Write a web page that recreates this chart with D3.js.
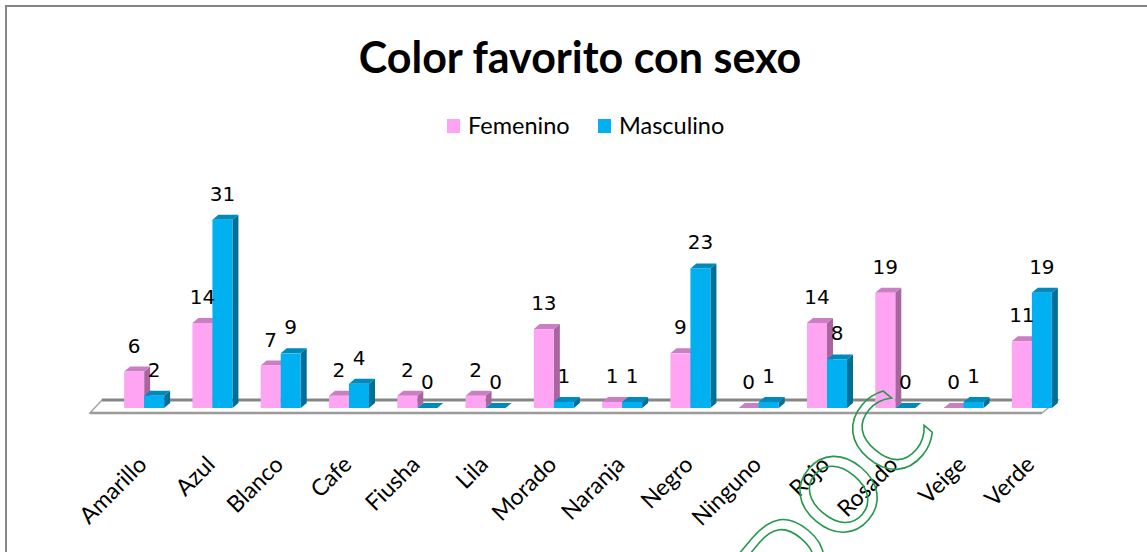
<!DOCTYPE html>
<html>
<head>
<meta charset="utf-8">
<script src="https://cdn.jsdelivr.net/npm/d3@7"></script>
<style>
  body { margin: 0; background: #fff; }
</style>
</head>
<body>
<svg class="chart"></svg>
<script>
const width = 1147;
const height = 552;

// data
const categories = ['Amarillo', 'Azul', 'Blanco', 'Cafe', 'Fiusha', 'Lila', 'Morado',
    'Naranja', 'Negro', 'Ninguno', 'Rojo', 'Rosado', 'Veige', 'Verde'];
const seriesNames = ['Femenino', 'Masculino'];
const femenino = [6, 14, 7, 2, 2, 2, 13, 1, 9, 0, 14, 19, 0, 11];
const masculino = [2, 31, 9, 4, 0, 0, 1, 1, 23, 1, 8, 0, 1, 19];

// colors: front, top, side
const colors = {
    Femenino: ['#ffa3f3', '#c97fc1', '#a8669f'],
    Masculino: ['#00b0f0', '#0089bb', '#006f97']
};

const svg = d3.select('.chart')
    .attr('width', width)
    .attr('height', height);

// border
svg.append('rect')
    .attr('x', 6)
    .attr('y', 6)
    .attr('width', 1200)
    .attr('height', 700)
    .attr('fill', 'none')
    .attr('stroke', '#858585')
    .attr('stroke-width', 2);

// title
svg.append('text')
    .attr('x', 580)
    .attr('y', 73)
    .attr('text-anchor', 'middle')
    .attr('font-family', 'Lato, sans-serif')
    .attr('font-weight', 'bold')
    .attr('font-size', 43)
    .attr('fill', '#000')
    .text('Color favorito con sexo');

// legend
const legend = svg.append('g').attr('id', 'legend');
const legendX = [447, 598];
seriesNames.forEach((name, i) => {
    legend.append('rect')
        .attr('x', legendX[i])
        .attr('y', 119)
        .attr('width', 13)
        .attr('height', 14)
        .attr('fill', colors[name][0]);
    legend.append('text')
        .attr('x', legendX[i] + 21)
        .attr('y', 134)
        .attr('font-family', 'Lato, sans-serif')
        .attr('font-size', 23.5)
        .attr('fill', '#000')
        .text(name);
});

// scales
const xScale = d3.scaleBand()
    .domain(categories)
    .range([110, 1066])
    .paddingInner(0.414)
    .paddingOuter(0.207);

const xSub = d3.scaleBand()
    .domain(seriesNames)
    .range([0, xScale.bandwidth()]);

const yScale = d3.scaleLinear()
    .domain([0, 35])
    .range([408, 408 - 35 * 6.07]);

const dx = 6, dy = -5;
const [r0, r1] = xScale.range();
const backY = 400, frontY = 413;

// floor
svg.append('path')
    .attr('d', `M${r0 - 8},${backY} L${r1 - 8},${backY} L${r1 - 24},${frontY} L${r0 - 20},${frontY} Z`)
    .attr('fill', '#fff')
    .attr('stroke', '#a6a6a6')
    .attr('stroke-width', 1.5);
svg.append('line')
    .attr('x1', r0 - 8).attr('x2', r1 - 8)
    .attr('y1', backY).attr('y2', backY)
    .attr('stroke', '#868686')
    .attr('stroke-width', 3);
svg.append('line')
    .attr('x1', r0 - 20).attr('x2', r1 - 24)
    .attr('y1', frontY).attr('y2', frontY)
    .attr('stroke', '#9a9a9a')
    .attr('stroke-width', 2.5);

// bars
const rows = categories.map((c, i) => ({
    cat: c,
    values: [
        { name: 'Femenino', value: femenino[i] },
        { name: 'Masculino', value: masculino[i] }
    ]
}));

const groups = svg.selectAll('.group')
    .data(rows).enter()
    .append('g')
    .attr('class', 'group')
    .attr('transform', d => `translate(${xScale(d.cat)},0)`);

const bars = groups.selectAll('.bar')
    .data(d => d.values).enter()
    .append('g')
    .attr('class', 'bar');

const bw = xSub.bandwidth();

// side face
bars.append('path')
    .attr('d', d => {
        const x = xSub(d.name) + bw, y0 = yScale(0), y1 = yScale(d.value);
        return `M${x},${y0} L${x + dx},${y0 + dy} L${x + dx},${y1 + dy} L${x},${y1} Z`;
    })
    .attr('fill', d => colors[d.name][2]);

// top face
bars.append('path')
    .attr('d', d => {
        const x = xSub(d.name), y1 = yScale(d.value);
        return `M${x},${y1} L${x + dx},${y1 + dy} L${x + bw + dx},${y1 + dy} L${x + bw},${y1} Z`;
    })
    .attr('fill', d => colors[d.name][1]);

// front face
bars.append('rect')
    .attr('x', d => xSub(d.name))
    .attr('y', d => yScale(d.value))
    .attr('width', bw)
    .attr('height', d => yScale(0) - yScale(d.value))
    .attr('fill', d => colors[d.name][0]);

// value labels
groups.selectAll('.value')
    .data(d => d.values).enter()
    .append('text')
    .attr('class', 'value')
    .attr('x', d => xSub(d.name) + bw / 2)
    .attr('y', d => yScale(d.value) - 19)
    .attr('text-anchor', 'middle')
    .attr('font-family', 'DejaVu Sans, sans-serif')
    .attr('font-size', 20)
    .attr('fill', '#000')
    .text(d => d.value);

// category labels
svg.selectAll('.cat')
    .data(categories).enter()
    .append('text')
    .attr('class', 'cat')
    .attr('text-anchor', 'end')
    .attr('font-family', 'Lato, sans-serif')
    .attr('font-size', 23)
    .attr('fill', '#000')
    .attr('transform', d => `translate(${xScale(d) + xScale.bandwidth() / 2 + 4},466) rotate(-45)`)
    .text(d => d);

// watermark
svg.append('g')
    .attr('transform', 'translate(836,497) rotate(-50)')
    .append('text')
    .attr('y', 38)
    .attr('text-anchor', 'middle')
    .attr('font-family', 'DejaVu Sans, sans-serif')
    .attr('font-size', 104)
    .attr('fill', 'none')
    .attr('stroke', '#23994c')
    .attr('stroke-width', 1.6)
    .text('DOC');
</script>
</body>
</html>
